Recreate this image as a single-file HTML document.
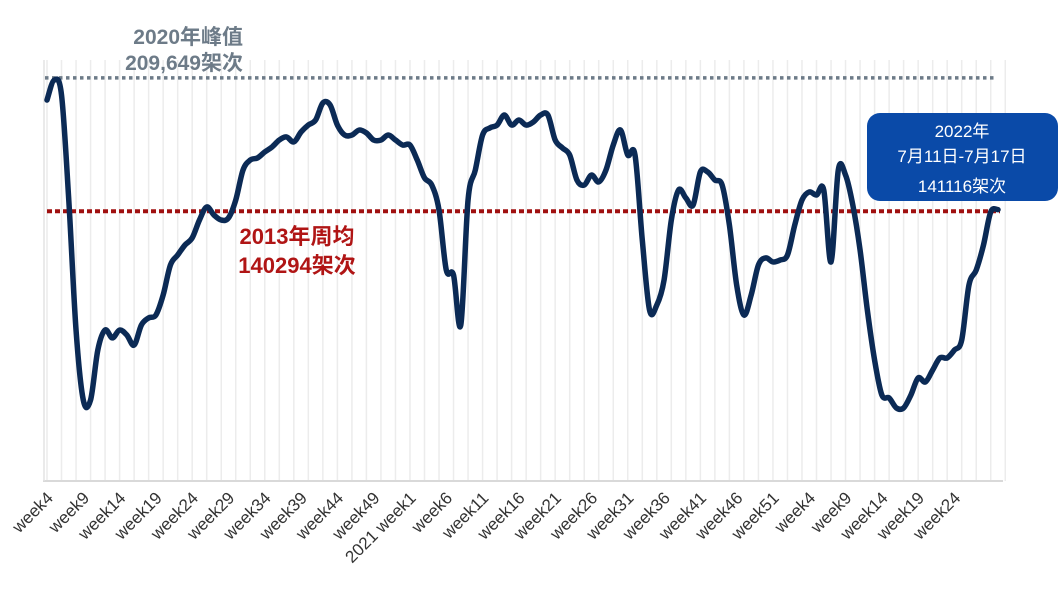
<!DOCTYPE html>
<html><head><meta charset="utf-8">
<style>
body{margin:0;background:#fff;}
svg text{font-family:"Liberation Sans","Noto Sans CJK SC",sans-serif;}
</style></head>
<body>
<svg id="chart" width="1063" height="589" viewBox="0 0 1063 589" xmlns="http://www.w3.org/2000/svg">
<g id="grid"></g>
<g id="axes"></g>
<g id="refs"></g>
<g id="series"></g>
<g id="xlabels"></g>
<text x="243" y="44" text-anchor="end" font-size="21" font-weight="bold" fill="#6d7b88">2020年峰值</text>
<text x="243" y="70" text-anchor="end" font-size="21" font-weight="bold" fill="#6d7b88">209,649架次</text>
<text x="297" y="244" text-anchor="middle" font-size="22" font-weight="bold" fill="#b01515">2013年周均</text>
<text x="297" y="273" text-anchor="middle" font-size="22" font-weight="bold" fill="#b01515">140294架次</text>
<g>
<rect x="867" y="113" width="191" height="88" rx="13" fill="#0a4aa8"/>
<text x="962" y="137" text-anchor="middle" font-size="17" fill="#fff">2022年</text>
<text x="962" y="162" text-anchor="middle" font-size="17" fill="#fff">7月11日-7月17日</text>
<text x="962" y="192" text-anchor="middle" font-size="17" fill="#fff">141116架次</text>
</g>
</svg>
<script>
const values=[198.1,208.5,200.7,146.1,78.5,42.1,42.1,68.1,78.5,74.4,78.5,75.9,70.7,81.1,84.8,86.3,96.7,112.3,117.5,122.7,126.4,135.7,142.5,138.3,135.7,136.8,146.1,161.7,166.9,168.0,171.1,173.7,177.3,178.9,176.3,181.5,185.1,187.7,196.6,195.5,185.1,179.9,179.9,182.5,181.0,177.3,177.3,179.9,177.3,174.7,174.7,166.9,157.6,153.9,140.9,109.7,107.1,81.1,146.1,161.7,179.9,183.6,185.1,190.3,185.1,187.7,185.1,186.7,190.3,190.3,177.3,173.2,169.5,156.5,153.9,159.1,155.5,161.7,174.7,182.5,169.5,169.5,125.3,88.9,91.5,104.5,135.7,151.3,147.2,143.5,160.7,160.7,156.5,153.9,133.1,101.9,86.3,96.7,112.3,116.0,113.9,114.9,117.5,133.1,146.1,150.3,148.7,151.3,113.9,161.7,159.1,143.5,120.1,88.9,62.9,44.7,43.2,38.0,38.0,44.7,53.6,51.5,57.7,64.0,64.0,68.1,73.3,101.9,109.7,122.7,139.9,141.1];
const tickLabels=["week4","week9","week14","week19","week24","week29","week34","week39","week44","week49","2021 week1","week6","week11","week16","week21","week26","week31","week36","week41","week46","week51","week4","week9","week14","week19","week24"];
const peakValue=209.649, avgValue=140.294;
const NS="http://www.w3.org/2000/svg";
const x0=47,x1=998,yBase=481,pxPerK=1/0.52;
const n=values.length;
const X=i=>x0+(x1-x0)*i/(n-1);
const Y=v=>yBase-v*pxPerK;
function mk(tag,attrs,parent){const e=document.createElementNS(NS,tag);for(const k in attrs)e.setAttribute(k,attrs[k]);parent.appendChild(e);return e;}
const grid=document.getElementById('grid');
for(let i=0;i<n+1;i+=2){const l=mk('line',{x1:X(i),x2:X(i),y1:60,y2:yBase,stroke:'#ececec','stroke-width':1.5},grid);

}
const axes=document.getElementById('axes');
const xa=mk('line',{x1:43,x2:1003,y1:yBase,y2:yBase,stroke:'#d9d9d9','stroke-width':2},axes);


const ya=mk('line',{x1:44,x2:44,y1:60,y2:yBase,stroke:'#e3e3e3','stroke-width':1.5},axes);


const refs=document.getElementById('refs');
const pl=mk('line',{x1:45,x2:996,y1:Y(peakValue),y2:Y(peakValue),stroke:'#6d7b88','stroke-width':3.5,'stroke-dasharray':'3.5 3.5'},refs);


const al=mk('line',{x1:47,x2:1000,y1:Y(avgValue),y2:Y(avgValue),stroke:'#a01010','stroke-width':4,'stroke-dasharray':'5 3'},refs);


const pts=values.map((v,i)=>[X(i),Y(v)]);
let d='M'+pts[0][0]+','+pts[0][1];
for(let i=0;i<n-1;i++){const p0=pts[Math.max(0,i-1)],p1=pts[i],p2=pts[i+1],p3=pts[Math.min(n-1,i+2)];
const c1=[p1[0]+(p2[0]-p0[0])/6,p1[1]+(p2[1]-p0[1])/6],c2=[p2[0]-(p3[0]-p1[0])/6,p2[1]-(p3[1]-p1[1])/6];
d+=` C${c1[0]},${c1[1]} ${c2[0]},${c2[1]} ${p2[0]},${p2[1]}`;}
const line=mk('path',{d:d,fill:'none',stroke:'#0b2a55','stroke-width':5.5,'stroke-linejoin':'round','stroke-linecap':'round'},document.getElementById('series'));


const xl=document.getElementById('xlabels');
tickLabels.forEach((t,k)=>{const xx=X(k*5)+7,yy=499;
const e=mk('text',{x:xx,y:yy,'text-anchor':'end','font-size':17,fill:'#333',transform:`rotate(-45 ${xx} ${yy})`},xl);
e.textContent=t;

});
</script>
</body></html>
